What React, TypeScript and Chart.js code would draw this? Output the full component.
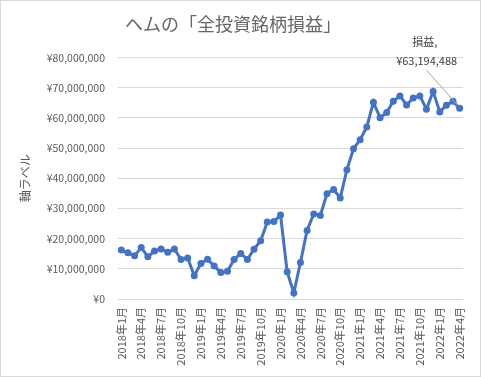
import React, { useEffect, useRef } from "react";
import { Chart, registerables } from "chart.js";

Chart.register(...registerables);

const TITLE = "ヘムの「全投資銘柄損益」";
const Y_AXIS_TITLE = "軸ラベル";
const ANNOTATION_NAME = "損益";

const categories: string[] = [
  "2018年1月", "2018年2月", "2018年3月", "2018年4月", "2018年5月", "2018年6月",
  "2018年7月", "2018年8月", "2018年9月", "2018年10月", "2018年11月", "2018年12月",
  "2019年1月", "2019年2月", "2019年3月", "2019年4月", "2019年5月", "2019年6月",
  "2019年7月", "2019年8月", "2019年9月", "2019年10月", "2019年11月", "2019年12月",
  "2020年1月", "2020年2月", "2020年3月", "2020年4月", "2020年5月", "2020年6月",
  "2020年7月", "2020年8月", "2020年9月", "2020年10月", "2020年11月", "2020年12月",
  "2021年1月", "2021年2月", "2021年3月", "2021年4月", "2021年5月", "2021年6月",
  "2021年7月", "2021年8月", "2021年9月", "2021年10月", "2021年11月", "2021年12月",
  "2022年1月", "2022年2月", "2022年3月", "2022年4月",
];

const profitValues: number[] = [
  16200000, 15300000, 14300000, 17100000, 14000000, 15900000,
  16600000, 15500000, 16600000, 13100000, 13600000, 7700000,
  11800000, 13200000, 10900000, 8800000, 9200000, 13100000,
  15100000, 13100000, 16500000, 19300000, 25500000, 25700000,
  27800000, 9000000, 2000000, 12100000, 22700000, 28200000,
  27700000, 34900000, 36300000, 33500000, 42800000, 49800000,
  52800000, 57000000, 65200000, 60100000, 61800000, 65500000,
  67300000, 64300000, 66600000, 67300000, 62900000, 68800000,
  62000000, 64200000, 65500000, 63194488,
];

const yTickValues: number[] = [0, 10000000, 20000000, 30000000, 40000000, 50000000, 60000000, 70000000, 80000000];

const yen = (v: number) => "¥" + Math.round(v).toLocaleString("en-US");

const FONT = "'Noto Sans CJK JP', 'Noto Sans', sans-serif";

const frame = {
  id: "frame",
  beforeDraw(chart: any) {
    const { ctx, width, height } = chart;
    ctx.save();
    ctx.fillStyle = "#ffffff";
    ctx.fillRect(0, 0, width, height);
    ctx.strokeStyle = "#d9d9d9";
    ctx.lineWidth = 1;
    ctx.strokeRect(0.5, 0.5, width - 1, height - 1);
    ctx.restore();
  },
};

const lastLabel = {
  id: "lastLabel",
  afterDatasetsDraw(chart: any) {
    const meta = chart.getDatasetMeta(0);
    const idx = meta.data.length - 1;
    const pt = meta.data[idx];
    if (!pt) return;
    const { ctx } = chart;
    const x = pt.x;
    const y = pt.y;
    ctx.save();
    ctx.strokeStyle = "#a6a6a6";
    ctx.lineWidth = 1;
    ctx.beginPath();
    ctx.moveTo(x - 33, y - 38);
    ctx.lineTo(x - 2, y - 3);
    ctx.stroke();
    ctx.fillStyle = "#404040";
    ctx.font = "11px " + FONT;
    ctx.textAlign = "center";
    ctx.textBaseline = "middle";
    ctx.fillText(ANNOTATION_NAME + ",", x - 35, y - 66);
    ctx.fillText(yen(profitValues[idx]), x - 33, y - 47);
    ctx.restore();
  },
};

export default function App() {
  const canvasRef = useRef<HTMLCanvasElement | null>(null);

  useEffect(() => {
    document.body.style.margin = "0";
    const canvas = canvasRef.current;
    if (!canvas) return;
    const chart = new Chart(canvas, {
      type: "line",
      data: {
        labels: categories,
        datasets: [
          {
            label: ANNOTATION_NAME,
            data: profitValues,
            borderColor: "#4472C4",
            backgroundColor: "#4472C4",
            borderWidth: 3,
            pointRadius: 3.5,
            pointBorderWidth: 0,
            pointBackgroundColor: "#4472C4",
            tension: 0,
          },
        ],
      },
      options: {
        animation: false,
        responsive: true,
        maintainAspectRatio: false,
        events: [],
        layout: { padding: { left: 0, right: 15, top: 0, bottom: 0 } },
        plugins: {
          legend: { display: false },
          tooltip: { enabled: false },
          title: {
            display: true,
            text: TITLE,
            color: "#666666",
            font: { family: FONT, size: 18, weight: "normal" },
            padding: { top: 13, bottom: 23 },
          },
        },
        scales: {
          x: {
            offset: true,
            grid: { display: false, drawTicks: false },
            border: { display: false },
            afterFit: (s: any) => {
              s.height = 78;
            },
            ticks: {
              autoSkip: false,
              maxRotation: 90,
              minRotation: 90,
              padding: 8,
              color: "#595959",
              font: { family: FONT, size: 11 },
              callback: (_v: any, i: number) => (i % 3 === 0 ? categories[i] : ""),
            },
          },
          y: {
            min: 0,
            max: 80000000,
            afterBuildTicks: (s: any) => {
              s.ticks = yTickValues.map((v) => ({ value: v }));
            },
            afterFit: (s: any) => {
              s.width = 118;
            },
            grid: { color: "#d9d9d9", drawTicks: false, lineWidth: 1 },
            border: { display: false },
            ticks: {
              padding: 13,
              color: "#595959",
              font: { family: FONT, size: 10.5 },
              callback: (v: any) => yen(Number(v)),
            },
            title: {
              display: true,
              text: Y_AXIS_TITLE,
              color: "#595959",
              font: { family: FONT, size: 12 },
              padding: { top: 18, bottom: 0 },
            },
          },
        },
      },
      plugins: [frame, lastLabel],
    });
    return () => chart.destroy();
  }, []);

  return (
    <div style={{ position: "absolute", left: 0, top: 0, width: 481, height: 377 }}>
      <canvas ref={canvasRef} />
    </div>
  );
}
